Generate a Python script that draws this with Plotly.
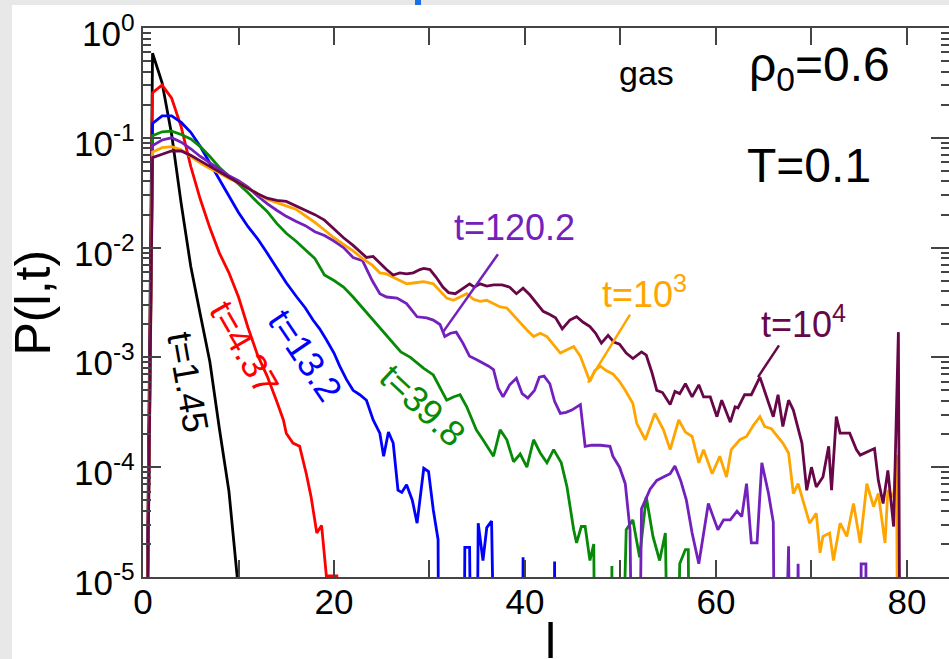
import plotly.graph_objects as go

# ---------------------------------------------------------------
# Cluster-size distribution P(l,t): l values and log10 P(l,t).
# None marks an empty bin (P = 0).
# ---------------------------------------------------------------
l_t145 = [0, 1, 2, 3, 4, 5, 6, 7, 8, 9, 10, 11]
lg_t145 = [None, -0.23, -0.50, -0.97, -1.60, -2.17, -2.61, -3.04, -3.65, -4.22, -5.12, None]

l_t437 = [0, 1, 2, 3, 4, 5, 6, 7, 8, 9, 10, 11, 12, 13, 14, 14.7, 15.0, 15.7, 16.4,
          17.1, 17.6, 18.2, 18.7, 19.2, 20.3, 20.6]
lg_t437 = [None, -0.59, -0.52, -0.64, -0.90, -1.26, -1.56, -1.82, -2.05, -2.23, -2.45,
           -2.73, -2.98, -3.17, -3.40, -3.57, -3.69, -3.78, -3.81, -4.06, -4.27, -4.60,
           -4.53, -4.99, -4.99, None]

l_t132 = [0, 1, 2, 3, 4, 5, 6, 7, 8, 9, 10, 11, 12, 13, 14, 15,
          16.1, 17.0, 17.8, 18.5, 19.2, 20.0, 20.6, 21.3, 22.0, 22.7,
          23.4, 24.1, 24.8, 25.2, 25.7, 26.2, 26.7, 27.1, 27.6, 28.2,
          28.7, 29.4, 29.9, 30.4, 30.9, 31.1, 33.4, 33.7, 34.2, 34.7,
          35.1, 35.6, 36.0, 36.5, 37.4, 39.6, 39.8, 40.0, 42.9, 43.1,
          43.3]
lg_t132 = [None, -0.87, -0.80, -0.80, -0.86, -0.95, -1.08, -1.23, -1.38, -1.53, -1.68,
           -1.81, -1.92, -2.05, -2.19, -2.32,
           -2.45, -2.55, -2.66, -2.74, -2.84, -2.96, -3.08, -3.20, -3.30, -3.34,
           -3.39, -3.57, -3.69, -3.90, -3.68, -3.78, -4.21, -4.23, -4.16, -4.30,
           -4.51, -4.01, -4.04, -4.39, -4.66, None, None, -4.73, -4.73, None,
           -4.51, -4.85, -4.55, -4.49, None, None, -4.82, None, None, -4.86,
           None]

l_t398 = [0, 1, 2, 3, 4, 5, 6, 7, 8, 9, 10, 11, 12, 13, 14, 15, 16, 17, 18, 19, 20,
          21, 22, 23, 24, 25, 26, 27, 28,
          29.4, 30.4, 31.3, 31.8, 32.5, 33.2, 33.9, 34.9, 35.6, 36.3,
          36.7, 37.4, 38.1, 38.8, 39.5, 40.2, 40.9, 41.6, 42.3, 43.0,
          43.8, 44.4, 45.1, 45.4, 45.9, 46.3, 46.8, 47.2, 47.6, 48.9,
          49.1, 49.3, 50.6, 51.3, 52.0, 52.7, 53.4, 54.1, 54.7, 55.5,
          56.2, 56.8, 57.1, 57.4]
lg_t398 = [None, -0.98, -0.945, -0.94, -0.97, -1.01, -1.08, -1.17, -1.27, -1.35, -1.42,
           -1.50, -1.59, -1.67, -1.78, -1.87, -1.94, -2.02, -2.10, -2.25, -2.30,
           -2.36, -2.45, -2.55, -2.65, -2.75, -2.86, -2.95, -3.00,
           -3.10, -3.16, -3.30, -3.39, -3.36, -3.34, -3.45, -3.66, -3.75, -3.84,
           -3.90, -3.66, -3.75, -3.95, -3.88, -4.00, -3.75, -3.87, -3.96, -3.84,
           -3.96, -4.18, -4.57, -4.69, -4.54, -4.54, -4.85, -4.70, None, None,
           -4.90, None, -4.57, -4.48, -4.82, -4.27, -4.63, -4.85, -4.60, None,
           -4.88, -4.75, -4.75, None]

l_t1202 = [0, 1, 2, 3, 4, 5, 6, 7, 8, 9, 10, 11, 12, 13, 14, 15, 16, 17, 18, 19, 20,
           21, 22, 23, 24,
           24.8, 25.5, 26.6, 27.6, 28.7, 29.7, 30.4, 31.1, 31.6, 32.2,
           32.8, 33.5, 34.2, 34.9, 35.6, 36.2, 36.7, 37.2, 37.7, 38.4,
           39.1, 39.7, 40.3, 41.0, 41.5, 42.0, 42.6, 43.1, 43.7, 44.3,
           44.9, 45.4, 45.8, 46.3, 47.0, 47.9, 48.9, 49.2, 49.9, 50.5,
           51.0, 51.6, 52.2, 53.1, 53.8, 54.5, 55.2, 55.7, 56.3, 56.9,
           57.5, 58.2, 58.7, 59.2, 59.7, 60.2, 60.8, 61.5, 62.2, 62.7,
           63.2, 63.7, 64.3, 64.8, 65.5, 66.0, 66.4, 67.6, 68.1, 68.6,
           69.0, 75.1, 75.2, 75.7, 75.8]
lg_t1202 = [None, -1.07, -1.02, -1.00, -1.04, -1.10, -1.17, -1.23, -1.29, -1.345, -1.39,
            -1.45, -1.53, -1.60, -1.66, -1.715, -1.76, -1.80, -1.855, -1.89, -1.94,
            -2.00, -2.09, -2.12, -2.30,
            -2.42, -2.45, -2.46, -2.51, -2.63, -2.64, -2.66, -2.70, -2.81, -2.78,
            -2.77, -2.87, -2.99, -3.02, -3.05, -3.08, -3.11, -3.28, -3.36, -3.25,
            -3.19, -3.33, -3.37, -3.30, -3.18, -3.17, -3.24, -3.40, -3.51, -3.50,
            -3.48, -3.45, -3.43, -3.81, -3.80, -3.80, -3.81, -3.90, -4.00, -4.15,
            -4.57, None, -4.38, -4.20, -4.12, -4.09, -4.06, -3.99, -4.12, -4.30,
            -4.60, -4.88, -4.60, -4.33, -4.45, -4.57, -4.48, -4.48, -4.40, -4.45,
            -4.15, -4.69, -4.69, -3.96, -4.24, -4.50, None, -4.72, None, -4.88,
            None, None, -4.88, -4.88, None]

l_t1e3 = [0, 1, 2, 3, 4, 5, 6, 7, 8, 9, 10, 11, 12, 13, 14, 15, 16, 17, 18, 19, 20,
          21, 22, 23, 24,
          24.8, 25.5, 26.2, 27.6, 28.5, 29.4, 30.4, 31.1, 31.8, 32.5,
          33.2, 33.9, 34.6, 35.3, 36.0, 36.7, 37.4, 38.1, 38.8, 39.5,
          40.2, 40.9, 41.6, 42.3, 43.0, 43.7, 44.4, 45.1, 45.8, 46.3,
          46.8, 47.3, 47.9, 48.5, 49.2, 49.9, 50.5, 51.3, 51.7, 52.6,
          53.6, 54.5, 55.2, 56.1, 56.8, 57.5, 58.2, 58.7, 59.6, 60.4,
          61.1, 61.6, 62.5, 63.2, 63.9, 64.6, 65.1, 65.8, 66.4, 67.0,
          67.6, 68.1, 68.6, 69.3, 69.8, 70.5, 70.9, 71.2, 71.9, 72.3,
          73.0, 73.7, 74.4, 75.1, 75.8, 76.5, 77.0, 77.7, 78.0, 78.6,
          78.9, 79.2]
lg_t1e3 = [None, -1.13, -1.09, -1.08, -1.11, -1.17, -1.23, -1.28, -1.32, -1.37, -1.41,
           -1.46, -1.51, -1.56, -1.59, -1.62, -1.65, -1.71, -1.77, -1.84, -1.91,
           -1.97, -2.03, -2.10, -2.16,
           -2.23, -2.24, -2.27, -2.33, -2.32, -2.31, -2.33, -2.40, -2.46, -2.48,
           -2.45, -2.42, -2.47, -2.49, -2.48, -2.51, -2.54, -2.55, -2.62, -2.69,
           -2.75, -2.81, -2.78, -2.81, -2.88, -2.96, -2.93, -2.90, -2.99, -3.10,
           -3.22, -3.12, -3.08, -3.12, -3.15, -3.22, -3.30, -3.42, -3.60, -3.75,
           -3.51, -3.66, -3.84, -3.57, -3.68, -3.72, -3.96, -3.84, -4.06, -3.90,
           -4.09, -3.84, -3.75, -3.72, -3.62, -3.54, -3.63, -3.65, -3.72, -3.78,
           -3.87, -4.24, -4.15, -4.36, -4.51, -4.42, -4.78, -4.63, -4.60, -4.85,
           -4.51, -4.63, -4.33, -4.69, -4.15, -4.36, -4.24, -4.69, -4.21, -4.27,
           -3.89, None]

l_t1e4 = [0, 1, 2, 3, 4, 5, 6, 7, 8, 9, 10, 11, 12, 13, 14, 15, 16, 17, 18, 19, 20,
          21, 22, 23, 23.4, 24.1, 24.8, 25.5, 26.2, 26.9,
          27.6, 28.3, 29.0, 29.4, 30.05, 30.7, 31.4, 32.0, 32.7, 33.4,
          34.2, 34.7, 35.3, 36.0, 36.7, 37.6, 38.4, 39.1, 39.8, 40.5,
          41.2, 41.9, 42.6, 43.2, 43.9, 44.7, 45.4, 46.1, 46.8, 47.4,
          48.0, 48.7, 49.3, 49.9, 50.6, 51.3, 52.2, 52.7, 53.3, 53.8,
          54.4, 55.2, 55.7, 56.2, 56.8, 57.5, 58.2, 58.7, 59.4, 60.1,
          60.6, 61.5, 62.0, 62.3, 63.0, 63.7, 64.6, 65.3, 66.0, 66.5,
          67.0, 67.6, 68.1, 69.0, 69.5, 70.0, 70.5, 71.2, 71.8, 72.1,
          72.6, 73.0, 74.0, 74.7, 75.1, 76.6, 77.0, 77.5, 78.0, 78.6,
          78.9, 79.1, 79.4]
lg_t1e4 = [None, -1.18, -1.15, -1.12, -1.12, -1.16, -1.21, -1.26, -1.31, -1.36, -1.41,
           -1.46, -1.51, -1.55, -1.57, -1.58, -1.62, -1.66, -1.70, -1.75, -1.83,
           -1.91, -1.98, -2.06, -2.09, -2.08, -2.14, -2.20, -2.25, -2.23,
           -2.24, -2.23, -2.20, -2.19, -2.20, -2.27, -2.36, -2.41, -2.42, -2.38,
           -2.33, -2.36, -2.33, -2.35, -2.34, -2.34, -2.36, -2.42, -2.37, -2.43,
           -2.51, -2.58, -2.61, -2.64, -2.74, -2.66, -2.63, -2.68, -2.72, -2.78,
           -2.87, -2.80, -2.86, -2.88, -2.96, -3.01, -2.95, -2.98, -3.14, -3.30,
           -3.32, -3.43, -3.31, -3.33, -3.24, -3.36, -3.25, -3.36, -3.36, -3.54,
           -3.39, -3.59, -3.45, -3.46, -3.34, -3.34, -3.18, -3.36, -3.54, -3.34,
           -3.63, -3.39, -3.48, -3.78, -4.21, -4.00, -4.18, -4.09, -3.81, -4.21,
           -3.54, -3.69, -3.69, -3.84, -3.89, -3.83, -4.12, -4.33, -4.03, -4.54,
           -3.45, -2.77, None]

x_ticks = [0, 20, 40, 60, 80]
y_tick_exponents = [0, -1, -2, -3, -4, -5]

# ---------------------------------------------------------------
FLOOR = 1e-9  # empty bins are drawn below the lower axis limit
FONT = "Liberation Sans, Arial, Helvetica, sans-serif"

GREEN = "#078a07"
INDIGO = "#7221bc"
ORANGE = "#ffa500"
MAROON = "#670748"


def to_p(lg):
    return [FLOOR if v is None else 10 ** v for v in lg]


series = [
    ("t=1.45", l_t145, lg_t145, "#000000"),
    ("t=4.37", l_t437, lg_t437, "#ff0000"),
    ("t=13.2", l_t132, lg_t132, "#0000ff"),
    ("t=39.8", l_t398, lg_t398, GREEN),
    ("t=120.2", l_t1202, lg_t1202, INDIGO),
    ("t=1e3", l_t1e3, lg_t1e3, ORANGE),
    ("t=1e4", l_t1e4, lg_t1e4, MAROON),
]

fig = go.Figure()
for name, lx, lg, col in series:
    fig.add_trace(go.Scatter(x=lx, y=to_p(lg), mode="lines", name=name,
                             line=dict(color=col, width=2.8),
                             showlegend=False, hoverinfo="skip"))

# pointer strokes from the labels to their curves (x in l, y in log10 P)
pointers = [
    (INDIGO, [37.17, 31.41], [-2.06, -2.77]),
    (ORANGE, [51.0, 46.6], [-2.61, -3.23]),
    (MAROON, [66.6, 64.4], [-2.89, -3.18]),
]
for col, px, py in pointers:
    fig.add_trace(go.Scatter(x=px, y=[10 ** v for v in py], mode="lines",
                             line=dict(color=col, width=2.5),
                             showlegend=False, hoverinfo="skip"))

# dummy trace carrying the mirrored right-hand axis
fig.add_trace(go.Scatter(x=[None], y=[None], yaxis="y2", showlegend=False,
                         hoverinfo="skip"))

# curve labels: (text, l, log10 P, angle, colour)
curve_labels = [
    ("t=1.45", 4.71, -3.23, 80, "#000000"),
    ("t=4.37", 10.6, -2.91, 60, "#ff0000"),
    ("t=13.2", 17.0, -2.98, 56, "#0000ff"),
    ("t=39.8", 29.3, -3.44, 43, GREEN),
    ("t=120.2", 38.95, -1.82, 0, INDIGO),
    ("t=10<sup>3</sup>", 52.5, -2.40, 0, ORANGE),
    ("t=10<sup>4</sup>", 69.2, -2.68, 0, MAROON),
]
annotations = []
for txt, x, y, ang, col in curve_labels:
    annotations.append(dict(text=txt, x=x, y=y, xref="x", yref="y",
                            textangle=ang, showarrow=False,
                            font=dict(family=FONT, size=36, color=col),
                            xanchor="center", yanchor="middle"))

header_labels = [
    ("gas", 52.7, -0.41, 34),
    ("\u03c1<sub>0</sub>=0.6", 70.8, -0.36, 48),
    ("T=0.1", 69.7, -1.25, 48),
]
for txt, x, y, size in header_labels:
    annotations.append(dict(text=txt, x=x, y=y, xref="x", yref="y",
                            showarrow=False,
                            font=dict(family=FONT, size=size, color="#000000"),
                            xanchor="center", yanchor="middle"))

# decade labels of the P axis, set just left of the frame
for e in y_tick_exponents:
    annotations.append(dict(text="10<sup>%d</sup>" % e, x=-6 / 806, y=e,
                            xref="paper", yref="y", showarrow=False,
                            xanchor="right", yanchor="middle", yshift=-3,
                            font=dict(family=FONT, size=35, color="#000000")))

# axis titles
annotations.append(dict(text="P(l,t)", x=-0.1365, y=0.50, xref="paper", yref="paper",
                        textangle=-90, showarrow=False,
                        font=dict(family=FONT, size=50, color="#000000"),
                        xanchor="center", yanchor="middle"))
annotations.append(dict(text="l", x=0.505, y=-0.116, xref="paper", yref="paper",
                        showarrow=False,
                        font=dict(family=FONT, size=50, color="#000000"),
                        xanchor="center", yanchor="middle"))

AX = "#444444"
y_major = [10.0 ** e for e in y_tick_exponents]
y_minor = [m * 10.0 ** e for e in range(-5, 0) for m in range(2, 10)]

yaxis_common = dict(type="log", range=[-5, 0], showgrid=False, zeroline=False,
                    ticks="inside", ticklen=18, tickwidth=1.5, tickcolor=AX,
                    tickmode="array", tickvals=y_major, showticklabels=False,
                    minor=dict(tickmode="array", tickvals=y_minor, ticks="inside",
                               ticklen=8, tickwidth=1.5, tickcolor=AX, showgrid=False))

fig.update_layout(
    width=949, height=659,
    margin=dict(l=143, r=0, t=28, b=82, pad=0),
    paper_bgcolor="#e8e8e8",
    plot_bgcolor="#ffffff",
    showlegend=False,
    xaxis=dict(range=[0, 84.4], showgrid=False, zeroline=False,
               showline=True, linecolor=AX, linewidth=1.5, mirror="allticks",
               ticks="inside", ticklen=17, tickwidth=1.5, tickcolor=AX,
               tickmode="array", tickvals=x_ticks,
               minor=dict(tickmode="linear", dtick=10, ticks="inside",
                          ticklen=9, tickwidth=1.5, tickcolor=AX, showgrid=False),
               tickfont=dict(family=FONT, size=35, color="#000000"),
               ticklabelstandoff=-7),
    yaxis=dict(**yaxis_common, showline=True, linecolor=AX, linewidth=1.5),
    yaxis2=dict(**yaxis_common, overlaying="y", side="right", anchor="x",
                showline=False),
    annotations=annotations,
    shapes=[
        # white sheet behind the chart
        dict(type="rect", xref="paper", yref="paper", layer="below",
             x0=(12 - 143) / 806, x1=1.01, y0=-0.16, y1=1 + 23 / 549,
             fillcolor="#ffffff", line=dict(width=0)),
        # small blue mark on the top edge
        dict(type="rect", xref="paper", yref="paper", layer="above",
             x0=(415 - 143) / 806, x1=(421 - 143) / 806,
             y0=1 + 23 / 549, y1=1 + 28 / 549,
             fillcolor="#1a6fe8", line=dict(width=0)),
    ],
)

fig.write_html("out.html")
